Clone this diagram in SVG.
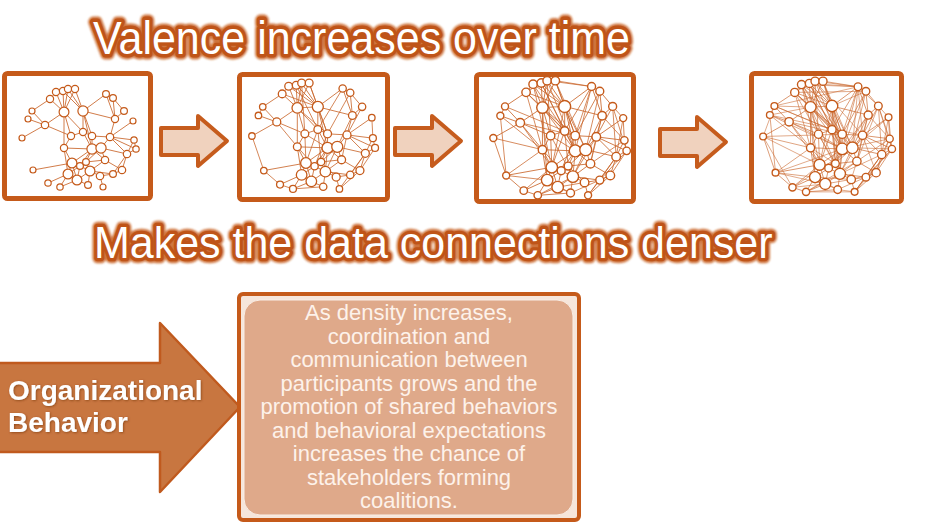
<svg xmlns="http://www.w3.org/2000/svg" width="939" height="529" viewBox="0 0 939 529">
<style>
.box{fill:#fff;stroke:#c55a1a;stroke-width:5}
.edge{fill:none;stroke:#c9652a;stroke-linecap:round}
.nd circle{fill:#fff;stroke:#c55a1a;stroke-width:1.2}
.sarrow{fill:#f0d2be;stroke:#c65c1d;stroke-width:4;stroke-linejoin:round}
.ttl{font-family:"Liberation Sans",Arial,sans-serif;font-size:43px}
.glow{fill:#c65c1d;stroke:#c65c1d;stroke-width:10;stroke-linejoin:round;filter:url(#blur);opacity:0.85}
.main{fill:#fff;stroke:#bf5418;stroke-width:6.5;stroke-linejoin:round;paint-order:stroke fill}
.body{font-family:"Liberation Sans",Arial,sans-serif;font-size:22px;fill:#fdf2ea;text-anchor:middle}
.lbl{font-family:"Liberation Sans",Arial,sans-serif;font-size:28px;font-weight:bold;fill:#fff;filter:url(#shadow)}
</style>
<defs>
<filter id="blur" x="-5%" y="-30%" width="110%" height="160%"><feGaussianBlur stdDeviation="1.2"/></filter>
<filter id="shadow" x="-5%" y="-20%" width="110%" height="140%"><feDropShadow dx="0.8" dy="0.8" stdDeviation="0.8" flood-color="#6a2a05" flood-opacity="0.6"/></filter>
<path id="e0" d="M56 92L63 91M63 91L68 89M68 89L75 89M56 92L50 99M50 99L64 112M56 92L64 112M63 91L64 112M68 89L64 112M75 89L64 112M68 89L83 111M75 89L83 111M63 91L83 111M50 99L32 111M32 111L45 125M28 119L45 125M45 125L22 138M45 125L64 112M45 125L71 136M83 111L106 94M106 94L113 98M106 94L115 119M113 98L124 111M113 98L115 119M124 111L115 119M83 111L115 119M83 111L83 132M83 111L92 136M83 111L92 149M64 112L71 136M64 112L64 148M64 112L83 132M115 119L110 137M133 121L110 137M83 132L71 136M83 132L92 136M92 136L110 137M92 136L92 149M110 137L101 148M110 137L134 140M110 137L136 149M134 140L136 149M101 148L127 154M110 137L127 154M134 140L127 154M92 149L101 148M92 149L105 160M101 148L105 160M64 148L72 163M64 148L92 149M92 149L72 163M92 149L80 166M92 149L86 162M101 148L86 162M105 160L86 162M105 160L90 171M127 154L122 170M105 160L122 170M72 163L80 166M72 163L68 174M72 163L33 170M80 166L90 171M86 162L90 171M68 174L77 180M90 171L100 176M90 171L77 180M100 176L113 174M113 174L122 170M68 174L48 183M68 174L60 187M77 180L60 187M77 180L88 185M90 171L88 185M100 176L103 187M127 154L113 174M136 149L127 154M72 163L77 180M80 166L68 174M80 166L77 180M80 166L86 162M90 171L113 174M71 136L64 148M83 132L92 149M64 148L68 174"/>
<path id="eA" d="M56 92L83 111M50 99L83 111M63 91L83 132M68 89L71 136M75 89L92 136M64 112L92 136M106 94L83 132M113 98L92 136M124 111L110 137M45 125L64 148M28 119L32 111M22 138L33 170M33 170L48 183M71 136L72 163M83 132L72 163M92 136L80 166M110 137L105 160M115 119L101 148M133 121L134 140M64 148L80 166M86 162L100 176M127 154L103 187M122 170L103 187M92 149L90 171M101 148L90 171M83 132L86 162M136 149L122 170M60 187L88 185M48 183L60 187M71 136L92 149M64 112L83 111"/>
<path id="eB" d="M56 92L83 132M63 91L92 149M68 89L92 149M75 89L101 148M56 92L72 163M50 99L83 132M64 112L92 149M83 111L101 148M83 111L72 163M106 94L92 136M106 94L92 149M113 98L101 148M124 111L127 154M133 121L127 154M124 111L136 149M32 111L83 132M28 119L64 148M45 125L92 136M22 138L64 148M33 170L68 174M33 170L64 148M48 183L72 163M60 187L90 171M88 185L122 170M103 187L113 174M77 180L100 176M68 174L88 185M110 137L90 171M134 140L105 160M136 149L113 174M115 119L105 160M64 112L68 174M71 136L90 171M50 99L64 148M28 119L33 170M45 125L72 163M115 119L134 140M68 89L106 94M75 89L106 94M133 121L124 111M63 91L50 99M56 92L68 89"/>
<path id="eC" d="M56 92L101 148M63 91L92 136M68 89L110 137M75 89L92 149M50 99L92 136M64 112L101 148M64 112L86 162M83 111L86 162M83 111L90 171M106 94L101 148M106 94L110 137M113 98L92 149M124 111L134 140M124 111L105 160M133 121L136 149M32 111L92 136M28 119L92 149M45 125L92 149M22 138L72 163M22 138L48 183M33 170L77 180M48 183L77 180M60 187L103 187M88 185L103 187M68 174L100 176M64 148L86 162M71 136L86 162M83 132L90 171M92 136L90 171M110 137L122 170M134 140L122 170M136 149L103 187M115 119L92 149M115 119L86 162M113 98L83 111M63 91L106 94M32 111L64 112M28 119L64 112M56 92L71 136M50 99L71 136M127 154L90 171M105 160L100 176M122 170L100 176M22 138L32 111M124 111L106 94M56 92L106 94M50 99L113 98M32 111L106 94M22 138L92 136M28 119L110 137M33 170L92 149M48 183L101 148M60 187L105 160M103 187L127 154M136 149L101 148M134 140L92 149M133 121L101 148"/>
<g id="nodes" class="nd">
<circle cx="56" cy="92" r="3.6"/><circle cx="63" cy="91" r="3.6"/><circle cx="68" cy="89" r="3.6"/><circle cx="75" cy="89" r="3.6"/><circle cx="50" cy="99" r="3.6"/>
<circle cx="64" cy="112" r="4.9"/><circle cx="83" cy="111" r="5.1"/><circle cx="32" cy="111" r="3"/><circle cx="28" cy="119" r="3"/><circle cx="45" cy="125" r="3.7"/>
<circle cx="22" cy="138" r="3"/><circle cx="106" cy="94" r="3.4"/><circle cx="113" cy="98" r="3.4"/><circle cx="124" cy="111" r="3.4"/><circle cx="115" cy="119" r="3.6"/>
<circle cx="133" cy="121" r="3"/><circle cx="83" cy="132" r="3.6"/><circle cx="71" cy="136" r="3.6"/><circle cx="92" cy="136" r="3.7"/><circle cx="110" cy="137" r="3.7"/>
<circle cx="134" cy="140" r="3.2"/><circle cx="136" cy="149" r="3.2"/><circle cx="64" cy="148" r="3.6"/><circle cx="92" cy="149" r="5.1"/><circle cx="101" cy="148" r="5.1"/>
<circle cx="127" cy="154" r="3.7"/><circle cx="105" cy="160" r="3.7"/><circle cx="72" cy="163" r="4.9"/><circle cx="80" cy="166" r="3.4"/><circle cx="86" cy="162" r="3.4"/>
<circle cx="33" cy="170" r="3"/><circle cx="68" cy="174" r="4.9"/><circle cx="90" cy="171" r="4.9"/><circle cx="100" cy="176" r="3.7"/><circle cx="113" cy="174" r="3.4"/>
<circle cx="122" cy="170" r="3.7"/><circle cx="77" cy="180" r="4.9"/><circle cx="48" cy="183" r="3.2"/><circle cx="60" cy="187" r="3.2"/><circle cx="88" cy="185" r="3.4"/>
<circle cx="103" cy="187" r="3"/>
</g>
</defs>

<g id="title-top" class="ttl">
<text class="glow" transform="translate(93,53.5) scale(1,1.08)">Valence increases over time</text>
<text class="main" transform="translate(93,53.5) scale(1,1.08)">Valence increases over time</text>
</g>

<g id="net1">
<rect class="box" x="4.5" y="73.5" width="146" height="125" rx="3"/>
<use href="#e0" class="edge" stroke-width="0.9" opacity="0.95"/>
<use href="#nodes"/>
</g>
<g id="net2">
<rect class="box" x="239.5" y="74.5" width="148" height="125" rx="3"/>
<g transform="translate(313.5,136) scale(1.08) translate(-79,-138)">
<use href="#e0" class="edge" stroke-width="0.85" opacity="0.9"/>
<use href="#eA" class="edge" stroke-width="0.85" opacity="0.85"/>
<use href="#nodes"/>
</g>
</g>
<g id="net3">
<rect class="box" x="476.5" y="74.5" width="157" height="127" rx="3"/>
<g transform="translate(560,138) scale(1.17) translate(-79,-138)">
<use href="#e0" class="edge" stroke-width="0.8" opacity="0.9"/>
<use href="#eA" class="edge" stroke-width="0.8" opacity="0.85"/>
<use href="#eB" class="edge" stroke-width="0.8" opacity="0.8"/>
<use href="#nodes"/>
</g>
</g>
<g id="net4">
<rect class="box" x="751.5" y="73.5" width="150" height="128" rx="3"/>
<g transform="translate(827.5,136.5) scale(1.13) translate(-79,-138)">
<use href="#e0" class="edge" stroke-width="0.75" opacity="0.8"/>
<use href="#eA" class="edge" stroke-width="0.75" opacity="0.75"/>
<use href="#eB" class="edge" stroke-width="0.75" opacity="0.7"/>
<use href="#eC" class="edge" stroke-width="0.75" opacity="0.65"/>
<use href="#nodes"/>
</g>
</g>

<g id="connectors">
<path class="sarrow" d="M161 128L198 128L198 116L227 141L198 166L198 155L161 155Z"/>
<path class="sarrow" transform="translate(234,0)" d="M161 128L198 128L198 116L227 141L198 166L198 155L161 155Z"/>
<path class="sarrow" transform="translate(499,1)" d="M161 128L198 128L198 116L227 141L198 166L198 155L161 155Z"/>
</g>

<g id="title-mid" class="ttl">
<text class="glow" transform="translate(94,257.7) scale(1,1.03)">Makes the data connections denser</text>
<text class="main" transform="translate(94,257.7) scale(1,1.03)">Makes the data connections denser</text>
</g>

<g id="organizational-behavior">
<path d="M-3 363L160 363L160 323L240 407L160 492L160 452L-3 452Z" fill="#c87640" stroke="#c05a1e" stroke-width="2.5" stroke-linejoin="round"/>
<text class="lbl" x="8" y="400">Organizational</text>
<text class="lbl" x="8" y="432">Behavior</text>
</g>

<g id="density-note">
<rect x="239" y="294" width="340" height="226" rx="4" fill="#f6e6db" stroke="#c55a1a" stroke-width="4"/>
<rect x="244" y="300" width="329" height="215" rx="16" fill="#dfa98a" stroke="#f9eee6" stroke-width="1"/>
<text class="body" x="409" y="320">As density increases,</text>
<text class="body" x="409" y="343.5">coordination and</text>
<text class="body" x="409" y="367">communication between</text>
<text class="body" x="409" y="390.5">participants grows and the</text>
<text class="body" x="409" y="414">promotion of shared behaviors</text>
<text class="body" x="409" y="437.5">and behavioral expectations</text>
<text class="body" x="409" y="461">increases the chance of</text>
<text class="body" x="409" y="484.5">stakeholders forming</text>
<text class="body" x="409" y="508">coalitions.</text>
</g>
</svg>
